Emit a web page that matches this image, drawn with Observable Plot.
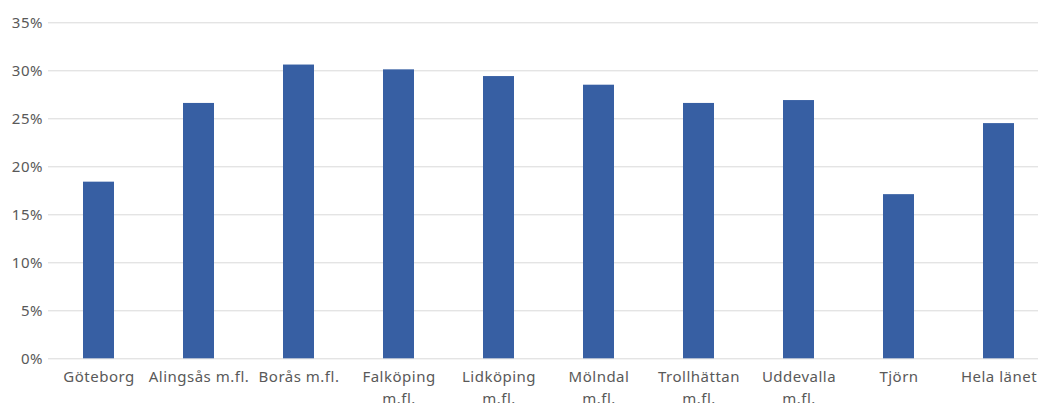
<!DOCTYPE html>
<html>
<head>
<meta charset="utf-8">
<script src="https://cdn.jsdelivr.net/npm/d3@7"></script>
<script src="https://cdn.jsdelivr.net/npm/@observablehq/plot@0.6"></script>
<style>
  html, body { margin: 0; padding: 0; background: #ffffff; }
  #chart { width: 1038px; height: 403px; overflow: hidden; }
</style>
</head>
<body>
<div id="chart"></div>
<script>
// Regions (labels use a line break where the axis wraps them)
const regions = [
  "Göteborg",
  "Alingsås m.fl.",
  "Borås m.fl.",
  "Falköping\nm.fl.",
  "Lidköping\nm.fl.",
  "Mölndal\nm.fl.",
  "Trollhättan\nm.fl.",
  "Uddevalla\nm.fl.",
  "Tjörn",
  "Hela länet"
];

// Share per region, in percent
const shares = [18.4, 26.6, 30.6, 30.1, 29.4, 28.5, 26.6, 26.9, 17.1, 24.5];

// Y axis ticks, in percent
const yTicks = [0, 5, 10, 15, 20, 25, 30, 35];

const data = regions.map((region, i) => ({region, share: shares[i]}));

const barColor = "#375fa3";
const gridColor = "#d9d9d9";
const textColor = "#595959";

const chart = Plot.plot({
  width: 1038,
  height: 403,
  marginTop: 22.3,
  marginBottom: 44.7,
  marginLeft: 48,
  marginRight: 0,
  style: {
    fontFamily: "'Noto Sans', 'Open Sans', sans-serif",
    fontSize: "15px",
    letterSpacing: "0.5px",
    color: textColor,
    background: "#ffffff"
  },
  x: {
    domain: regions,
    range: [48, 1048],
    paddingInner: 0.695,
    paddingOuter: 0.3475,
    label: null
  },
  y: {
    domain: [0, 35],
    label: null
  },
  marks: [
    Plot.ruleY(yTicks, {stroke: gridColor, strokeWidth: 1}),
    Plot.barY(data, {x: "region", y: "share", fill: barColor}),
    Plot.axisY({
      ticks: yTicks,
      tickSize: 0,
      tickPadding: 5.5,
      tickFormat: d => d + "%",
      fill: textColor,
      label: null
    }),
    Plot.axisX({
      tickSize: 0,
      tickPadding: 8,
      lineHeight: 1.45,
      fill: textColor,
      label: null
    })
  ]
});

document.getElementById("chart").appendChild(chart);
</script>
</body>
</html>
